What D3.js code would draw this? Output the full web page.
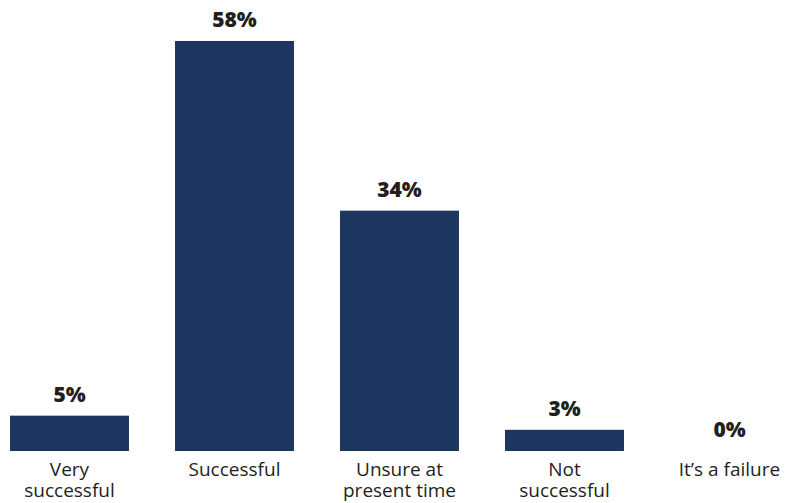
<!DOCTYPE html>
<html><head><meta charset="utf-8">
<script src="https://cdn.jsdelivr.net/npm/d3@7"></script>
<style>body{margin:0;background:#fff}svg{display:block}</style>
</head><body>
<svg id="c" width="798" height="503"></svg>
<script>
const categories = [["Very","successful"],["Successful"],["Unsure at","present time"],["Not","successful"],["It’s a failure"]];
const values = [5, 58, 34, 3, 0];
const valueLabels = ["5%","58%","34%","3%","0%"];

const svg = d3.select("#c");
const ids = categories.map((d,i)=>i);
const x = d3.scaleBand().domain(ids).range([-13, 812]).paddingInner(0.279).paddingOuter(0.1395);
const y = d3.scaleLinear().domain([0, 58]).range([451, 41]);

svg.selectAll("rect.bar").data(values).join("rect")
  .attr("class","bar")
  .attr("x",(d,i)=>x(i)).attr("width",x.bandwidth())
  .attr("y",d=>y(d)).attr("height",d=>y(0)-y(d))
  .attr("fill","#1c365f");

svg.selectAll("text.val").data(values).join("text")
  .attr("class","val")
  .attr("x",(d,i)=>x(i)+x.bandwidth()/2)
  .attr("y",d=>y(d)-14)
  .attr("text-anchor","middle")
  .attr("font-family","'Open Sans', sans-serif")
  .attr("font-weight",800)
  .attr("font-size",21)
  .attr("fill","#231f20")
  .text((d,i)=>valueLabels[i]);

const lab = svg.selectAll("text.cat").data(categories).join("text")
  .attr("class","cat")
  .attr("text-anchor","middle")
  .attr("font-family","'Open Sans', sans-serif")
  .attr("font-size",19)
  .attr("fill","#231f20");
lab.each(function(d,i){
  d3.select(this).selectAll("tspan").data(d).join("tspan")
    .attr("x",x(i)+x.bandwidth()/2)
    .attr("y",(t,j)=>476+j*21)
    .text(t=>t);
});
</script>
</body></html>
